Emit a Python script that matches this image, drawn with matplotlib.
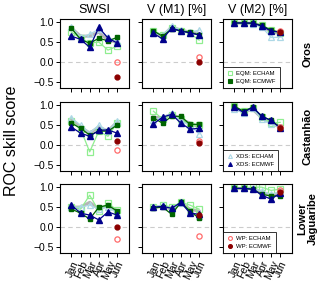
import matplotlib.pyplot as plt
import numpy as np

plt.rcParams["font.family"] = ["Liberation Sans", "DejaVu Sans"]

months = ["Jan", "Feb", "Mar", "Apr", "May", "Jun"]
variables = ["SWSI", "V (M1) [%]", "V (M2) [%]"]
reservoirs = ["Oros", "Castanhão", "Lower\nJaguaribe"]

# each series: rows = reservoirs, cols = variables, values for Jan..Jun
grey_mean = [
    [[0.85, 0.65, 0.65, 0.75, 0.55, 0.50], [0.75, 0.65, 0.88, 0.80, 0.75, 0.72], [0.98, 0.98, 0.97, 0.92, 0.75, 0.72]],
    [[0.65, 0.45, 0.30, 0.45, 0.35, 0.58], [0.70, 0.68, 0.78, 0.65, 0.55, 0.45], [0.93, 0.83, 0.90, 0.68, 0.55, 0.45]],
    [[0.50, 0.50, 0.62, 0.45, 0.55, 0.40], [0.50, 0.52, 0.45, 0.60, 0.45, 0.40], [0.97, 0.97, 0.97, 0.88, 0.80, 0.85]],
]
eqm_echam = [
    [[0.75, 0.60, 0.48, 0.50, 0.30, 0.40], [0.78, 0.68, 0.85, 0.78, 0.72, 0.55], [0.98, 0.98, 0.97, 0.92, 0.80, 0.72]],
    [[0.60, 0.40, -0.17, 0.35, 0.22, 0.55], [0.85, 0.65, 0.75, 0.65, 0.50, 0.50], [0.98, 0.85, 0.93, 0.70, 0.55, 0.57]],
    [[0.50, 0.45, 0.80, 0.40, 0.60, 0.42], [0.50, 0.55, 0.50, 0.62, 0.55, 0.45], [0.98, 0.98, 1.00, 1.00, 0.92, 0.95]],
]
eqm_ecmwf = [
    [[0.85, 0.57, 0.47, 0.60, 0.53, 0.62], [0.78, 0.65, 0.83, 0.78, 0.75, 0.68], [0.98, 0.98, 0.97, 0.92, 0.80, 0.75]],
    [[0.55, 0.42, 0.25, 0.35, 0.35, 0.50], [0.68, 0.55, 0.72, 0.72, 0.52, 0.52], [0.97, 0.85, 0.95, 0.72, 0.62, 0.45]],
    [[0.45, 0.35, 0.20, 0.50, 0.55, 0.40], [0.48, 0.50, 0.32, 0.62, 0.40, 0.22], [0.97, 0.97, 0.95, 0.82, 0.78, 0.78]],
]
xds_echam = [
    [[0.88, 0.62, 0.70, 0.82, 0.62, 0.52], [0.72, 0.68, 0.90, 0.80, 0.75, 0.80], [0.97, 0.97, 0.95, 0.88, 0.62, 0.62]],
    [[0.68, 0.50, 0.30, 0.50, 0.35, 0.60], [0.62, 0.70, 0.80, 0.60, 0.50, 0.28], [0.90, 0.80, 0.92, 0.65, 0.52, 0.45]],
    [[0.50, 0.50, 0.55, 0.45, 0.50, 0.35], [0.50, 0.55, 0.45, 0.60, 0.40, 0.28], [0.97, 0.97, 0.97, 0.90, 0.82, 0.88]],
]
xds_ecmwf = [
    [[0.65, 0.57, 0.37, 0.87, 0.60, 0.48], [0.72, 0.58, 0.85, 0.78, 0.73, 0.68], [0.98, 0.98, 0.98, 0.90, 0.78, 0.75]],
    [[0.45, 0.30, 0.22, 0.37, 0.38, 0.30], [0.53, 0.70, 0.77, 0.55, 0.40, 0.42], [0.95, 0.82, 0.95, 0.72, 0.62, 0.43]],
    [[0.55, 0.35, 0.30, 0.18, 0.38, 0.30], [0.50, 0.52, 0.47, 0.62, 0.35, 0.32], [0.97, 0.97, 0.95, 0.80, 0.70, 0.85]],
]
# WP only available for June
wp_echam = [[0.00, 0.12, 0.78], [-0.12, 0.10, 0.45], [-0.30, -0.22, 0.92]]
wp_ecmwf = [[-0.37, 0.00, 0.75], [0.10, 0.05, 0.42], [0.00, 0.30, 0.88]]

fig = plt.figure(figsize=(3.2, 2.82), dpi=100)
lefts = [60 / 320, 142 / 320, 223 / 320]
bottoms = [1 - 88 / 282, 1 - 171 / 282, 1 - 253 / 282]
w, h = 69 / 320, 69 / 282
x = np.arange(1, 7)

for r in range(3):
    for c in range(3):
        ax = fig.add_axes([lefts[c], bottoms[r], w, h])
        ax.axhline(0, color="#cccccc", ls=(0, (4, 3)), lw=0.8, zorder=0)
        ax.plot(x, grey_mean[r][c], color="#b5b5b5", lw=2.2, zorder=1)
        ax.plot(x, eqm_echam[r][c], color="#90ee90", lw=0.9, marker="s", ms=4,
                mfc="none", mec="#90ee90", mew=0.9, label="EQM: ECHAM", zorder=2)
        ax.plot(x, xds_echam[r][c], color="#add8e6", lw=0.9, marker="^", ms=4,
                mfc="none", mec="#add8e6", mew=0.9, label="XDS: ECHAM", zorder=2)
        ax.plot(x, eqm_ecmwf[r][c], color="#006400", lw=0.9, marker="s", ms=3.5,
                label="EQM: ECMWF", zorder=3)
        ax.plot(x, xds_ecmwf[r][c], color="#00008b", lw=0.9, marker="^", ms=4,
                label="XDS: ECMWF", zorder=4)
        ax.plot([6], [wp_echam[r][c]], ls="none", marker="o", ms=3.8, mfc="none",
                mec="#ff6a6a", mew=0.9, label="WP: ECHAM", zorder=5)
        ax.plot([6], [wp_ecmwf[r][c]], ls="none", marker="o", ms=3.5, color="#8b0000",
                label="WP: ECMWF", zorder=5)

        ax.set_xlim(-0.25, 7.3)
        ax.set_ylim(-0.65, 1.08)
        ax.set_yticks([-0.5, 0.0, 0.5, 1.0])
        ax.set_xticks(x)
        ax.tick_params(direction="out", length=3, width=0.7, labelsize=7.5, pad=1.5)
        for s in ax.spines.values():
            s.set_linewidth(0.8)
        if c == 0:
            ax.set_yticklabels(["\u22120.5", "0.0", "0.5", "1.0"])
        else:
            ax.set_yticklabels([])
        if r == 2:
            ax.set_xticklabels(months, rotation=65, ha="right", rotation_mode="anchor", fontsize=7.5)
        else:
            ax.set_xticklabels([])
        if r == 0:
            ax.set_title(variables[c], fontsize=9, pad=4)
        if c == 2:
            h_all, l_all = ax.get_legend_handles_labels()
            pairs = [("EQM: ECHAM", "EQM: ECMWF"), ("XDS: ECHAM", "XDS: ECMWF"),
                     ("WP: ECHAM", "WP: ECMWF")][r]
            hs = [h_all[l_all.index(p)] for p in pairs]
            hs = [plt.Line2D([], [], ls="none", marker=hh.get_marker(), ms=2.8,
                             mfc=hh.get_mfc(), mec=hh.get_mec(), mew=0.8) for hh in hs]
            leg = ax.legend(hs, pairs, loc="lower left", fontsize=4.3, frameon=True,
                            fancybox=False, edgecolor="black", borderaxespad=0,
                            handlelength=1.0, handletextpad=0.5, borderpad=0.7,
                            labelspacing=0.45)
            leg.get_frame().set_linewidth(0.7)
            fig.text(0.962, bottoms[r] + h / 2, reservoirs[r], rotation=90, ha="center",
                     va="center", fontsize=8, fontweight="bold", linespacing=1.1)

fig.text(0.035, 0.5, "ROC skill score", rotation=90, ha="center", va="center", fontsize=11.5)
fig.savefig("out.png", dpi=100)
